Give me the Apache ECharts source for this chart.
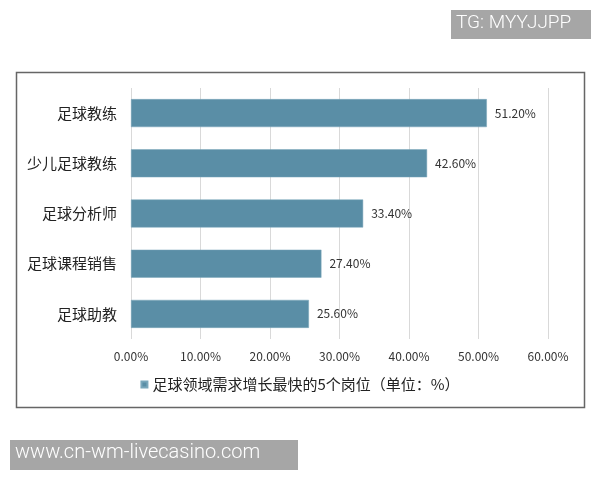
<!DOCTYPE html>
<html>
<head>
<meta charset="utf-8">
<script src="https://cdn.jsdelivr.net/npm/echarts@6/dist/echarts.min.js"></script>
<style>
  html, body { margin: 0; padding: 0; background: #fff; }
  #main { width: 600px; height: 480px; }
</style>
</head>
<body>
<div id="main"></div>
<script>
const categories = ['足球教练', '少儿足球教练', '足球分析师', '足球课程销售', '足球助教'];
const values = [51.2, 42.6, 33.4, 27.4, 25.6];
const seriesName = '足球领域需求增长最快的5个岗位（单位：%）';
const fontCn = '"Noto Sans CJK SC", "Noto Sans", sans-serif';

const chart = echarts.init(document.getElementById('main'));
chart.setOption({
  backgroundColor: '#fff',
  animation: false,
  textStyle: { fontFamily: fontCn },
  grid: { left: 131, right: 52, top: 88, bottom: 141 },
  legend: {
    data: [seriesName],
    bottom: 83,
    left: 'center',
    icon: 'rect',
    itemWidth: 6,
    itemHeight: 6,
    itemGap: 5,
    textStyle: { fontSize: 15, color: '#222', fontFamily: fontCn }
  },
  xAxis: {
    type: 'value',
    min: 0,
    max: 60,
    interval: 10,
    axisLine: { show: false },
    axisTick: { show: false },
    splitLine: { lineStyle: { color: '#d9d9d9', width: 1 } },
    axisLabel: {
      margin: 11,
      fontSize: 12,
      color: '#333',
      formatter: v => v.toFixed(2) + '%'
    }
  },
  yAxis: {
    type: 'category',
    inverse: true,
    data: categories,
    axisLine: { show: false },
    axisTick: { show: false },
    axisLabel: { margin: 14, fontSize: 15, color: '#222' }
  },
  series: [{
    name: seriesName,
    type: 'bar',
    data: values,
    barWidth: 28,
    itemStyle: { color: '#5a8ea6', borderColor: '#7aa7bb', borderWidth: 0.5 },
    label: {
      show: true,
      position: 'right',
      distance: 8,
      fontSize: 12,
      color: '#333',
      formatter: p => p.value.toFixed(2) + '%'
    }
  }],
  graphic: [
    {
      type: 'rect',
      shape: { x: 16.5, y: 72.5, width: 568, height: 335 },
      style: { fill: 'none', stroke: '#666', lineWidth: 1.5 },
      z: 0
    },
    {
      type: 'group',
      left: 451, top: 10,
      children: [
        { type: 'rect', shape: { x: 0, y: 0, width: 140, height: 29 }, style: { fill: '#a6a6a6' } },
        { type: 'text', left: 5, top: 4, style: { text: 'TG: MYYJJPP', fill: '#fff', font: '300 19px Roboto, "Liberation Sans", sans-serif' } }
      ]
    },
    {
      type: 'group',
      left: 10, top: 440,
      children: [
        { type: 'rect', shape: { x: 0, y: 0, width: 288, height: 30 }, style: { fill: '#a6a6a6' } },
        { type: 'text', left: 5, top: 3, style: { text: 'www.cn-wm-livecasino.com', fill: '#fff', font: '300 20px Roboto, "Liberation Sans", sans-serif' } }
      ]
    }
  ]
});
</script>
</body>
</html>
